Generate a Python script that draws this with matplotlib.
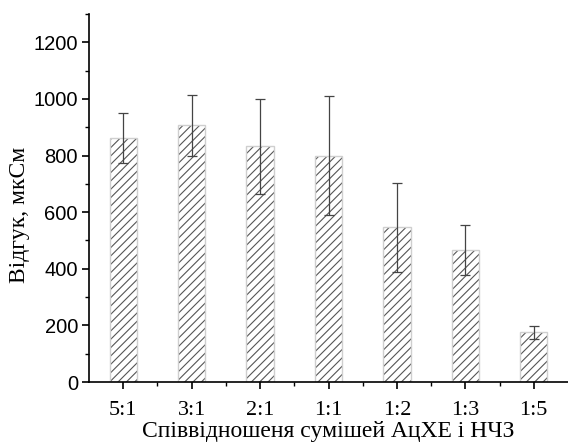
import matplotlib
matplotlib.use("Agg")
import matplotlib.pyplot as plt
from matplotlib.ticker import MultipleLocator, FixedLocator
import numpy as np

categories = ["5:1", "3:1", "2:1", "1:1", "1:2", "1:3", "1:5"]
values = [863, 907, 833, 800, 546, 466, 175]
errors = [88, 107, 168, 210, 157, 87, 23]

plt.rcParams['hatch.linewidth'] = 0.8
plt.rcParams['hatch.color'] = '#555555'

fig = plt.figure(figsize=(5.68, 4.43), dpi=100)
ax = fig.add_axes([89/568, 61/443, 1 - 89/568, (382-14)/443])

x = np.arange(len(categories))
ax.bar(x, values, width=0.4, color='white', edgecolor='#555555', linewidth=0, hatch='////')
ax.bar(x, values, width=0.4, fill=False, edgecolor='#cfcfcf', linewidth=1.0)
ax.errorbar(x, values, yerr=errors, fmt='none', ecolor='#444444', elinewidth=0.9, capsize=3.5, capthick=0.9)

ax.set_xlim(-0.5, len(categories) - 0.5)
ax.set_ylim(0, 1300)
ax.spines['top'].set_visible(False)
ax.spines['right'].set_visible(False)
ax.spines['left'].set_linewidth(1.2)
ax.spines['bottom'].set_linewidth(1.2)

ax.set_xticks(x)
ax.set_xticklabels(categories, fontfamily='Liberation Serif', fontsize=16)
ax.xaxis.set_minor_locator(FixedLocator(x[:-1] + 0.5))
ax.set_yticks(np.arange(0, 1201, 200))
ax.yaxis.set_minor_locator(MultipleLocator(100))
for lab in ax.get_yticklabels():
    lab.set_fontfamily('Liberation Sans')
    lab.set_fontsize(14.5)
ax.tick_params(axis='both', which='major', direction='out', length=5, width=1.2, pad=3)
ax.tick_params(axis='both', which='minor', direction='out', length=3, width=1.0)
ax.tick_params(axis='x', which='major', pad=9)

ax.set_xlabel("Співвідношеня сумішей АцХЕ і НЧЗ", fontfamily='Liberation Serif', fontsize=17)
ax.xaxis.set_label_coords(0.5, -0.107)
ax.set_ylabel("Відгук, мкСм", fontfamily='Liberation Serif', fontsize=17)
ax.yaxis.set_label_coords(-0.123, (382 - 215) / 368)

fig.savefig("out.png", dpi=100)
